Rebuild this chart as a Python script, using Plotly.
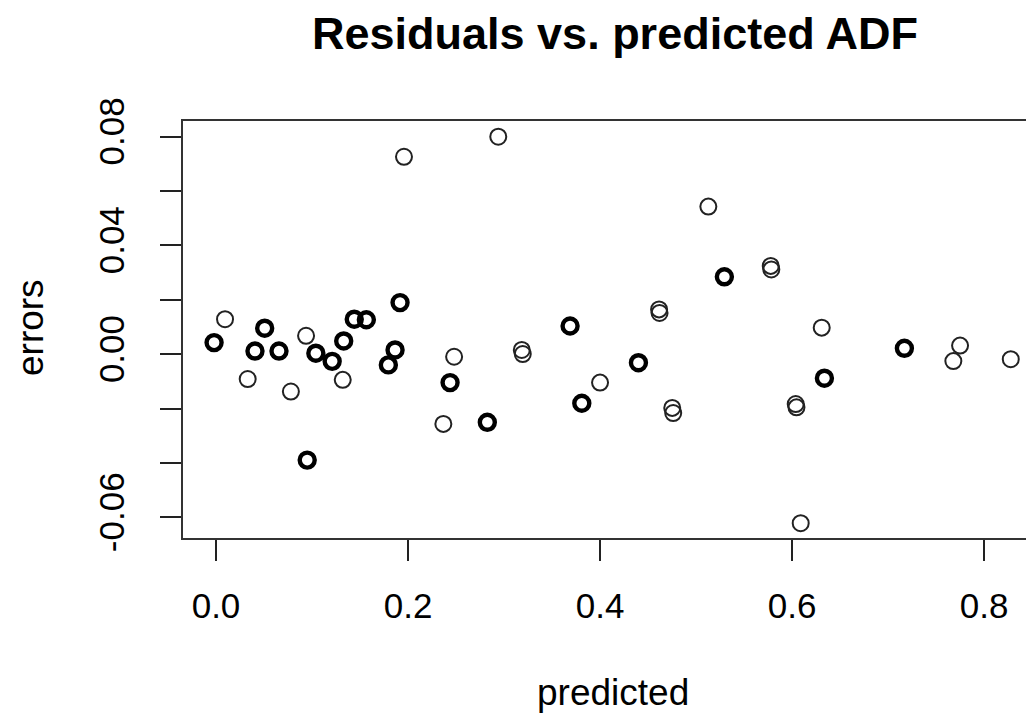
import plotly.graph_objects as go

# Single (thin) circles
x_thin = [0.0094, 0.0938, 0.033, 0.078, 0.132, 0.1958, 0.294, 0.248, 0.2368,
          0.400, 0.5128, 0.6309, 0.609, 0.775, 0.768, 0.8278,
          0.3185, 0.3195, 0.4615, 0.4620, 0.4752, 0.4762, 0.5778, 0.5784,
          0.6038, 0.6046]
y_thin = [0.0129, 0.0068, -0.0091, -0.0137, -0.0094, 0.0726, 0.0800, -0.0009, -0.0256,
          -0.0104, 0.0543, 0.0098, -0.0621, 0.0032, -0.0025, -0.0018,
          0.0016, 0.0001, 0.0165, 0.0152, -0.0197, -0.0216, 0.0325, 0.0312,
          -0.0183, -0.0195]

# Overplotted (bold-looking) circles
x_bold = [-0.002, 0.0507, 0.0406, 0.0656, 0.104, 0.121, 0.133, 0.095, 0.144,
          0.1566, 0.1917, 0.1865, 0.1795, 0.2438, 0.2826, 0.3688, 0.381, 0.440,
          0.5295, 0.6337, 0.717]
y_bold = [0.0043, 0.0096, 0.0012, 0.0012, 0.0004, -0.0026, 0.0049, -0.0389, 0.0129,
          0.0127, 0.0190, 0.0016, -0.0039, -0.0104, -0.0250, 0.0104, -0.0180, -0.0031,
          0.0285, -0.0088, 0.0022]

x_ticks = [0.0, 0.2, 0.4, 0.6, 0.8]
x_ticktext = ["0.0", "0.2", "0.4", "0.6", "0.8"]
y_ticks = [-0.06, -0.04, -0.02, 0.0, 0.02, 0.04, 0.06, 0.08]
y_ticktext = ["-0.06", "", "", "0.00", "", "0.04", "", "0.08"]

FONT = "Liberation Sans"
# The page body has an 8px margin; the figure is sized/offset to compensate.
OFF = 8
W, H = 1034 - OFF, 717 - OFF
L, T, B = 183 - OFF, 121 - OFF, H - (538 - OFF)
PW, PH = W - L, H - T - B

fig = go.Figure()
fig.add_trace(go.Scatter(
    x=x_thin, y=y_thin, mode="markers",
    marker=dict(symbol="circle-open", size=16, color="#222222",
                line=dict(width=2, color="#222222")),
    showlegend=False, hoverinfo="skip"))
fig.add_trace(go.Scatter(
    x=x_bold, y=y_bold, mode="markers",
    marker=dict(symbol="circle-open", size=15, color="#000000",
                line=dict(width=4.4, color="#000000")),
    showlegend=False, hoverinfo="skip"))

fig.update_layout(
    width=W, height=H,
    margin=dict(l=L, r=0, t=T, b=B, pad=0),
    paper_bgcolor="white", plot_bgcolor="white",
    font=dict(family=FONT, color="black", size=35),
    title=dict(text="<b>Residuals vs. predicted ADF</b>",
               font=dict(family=FONT, size=45, color="black"),
               x=(615 - OFF) / W, xanchor="center", xref="container",
               y=1 - (33 - OFF) / H, yanchor="middle", yref="container"),
    xaxis=dict(range=[-0.034375, 0.852], tickvals=x_ticks, ticktext=x_ticktext,
               ticks="outside", ticklen=21, tickwidth=2, tickcolor="#222",
               showline=True, linecolor="#333", linewidth=2, mirror=True,
               showgrid=False, zeroline=False,
               tickfont=dict(size=35, family=FONT, color="black"),
               ticklabelstandoff=15),
    yaxis=dict(range=[-0.06754, 0.08577], tickvals=y_ticks, ticktext=y_ticktext,
               ticks="outside", ticklen=21, tickwidth=2, tickcolor="#222",
               showline=True, linecolor="#333", linewidth=2, mirror=False,
               showgrid=False, zeroline=False, tickangle=-90,
               tickfont=dict(size=35, family=FONT, color="black"),
               ticklabelstandoff=22),
    annotations=[
        dict(text="predicted", xref="paper", yref="paper",
             x=(613 - 183) / PW, y=(538 - 692) / PH,
             xanchor="center", yanchor="middle", showarrow=False,
             font=dict(size=37, family=FONT, color="black")),
        dict(text="errors", xref="paper", yref="paper",
             x=(30 - 183) / PW, y=(538 - 328) / PH, textangle=-90,
             xanchor="center", yanchor="middle", showarrow=False,
             font=dict(size=37, family=FONT, color="black")),
    ],
)

fig.write_html("out.html")
